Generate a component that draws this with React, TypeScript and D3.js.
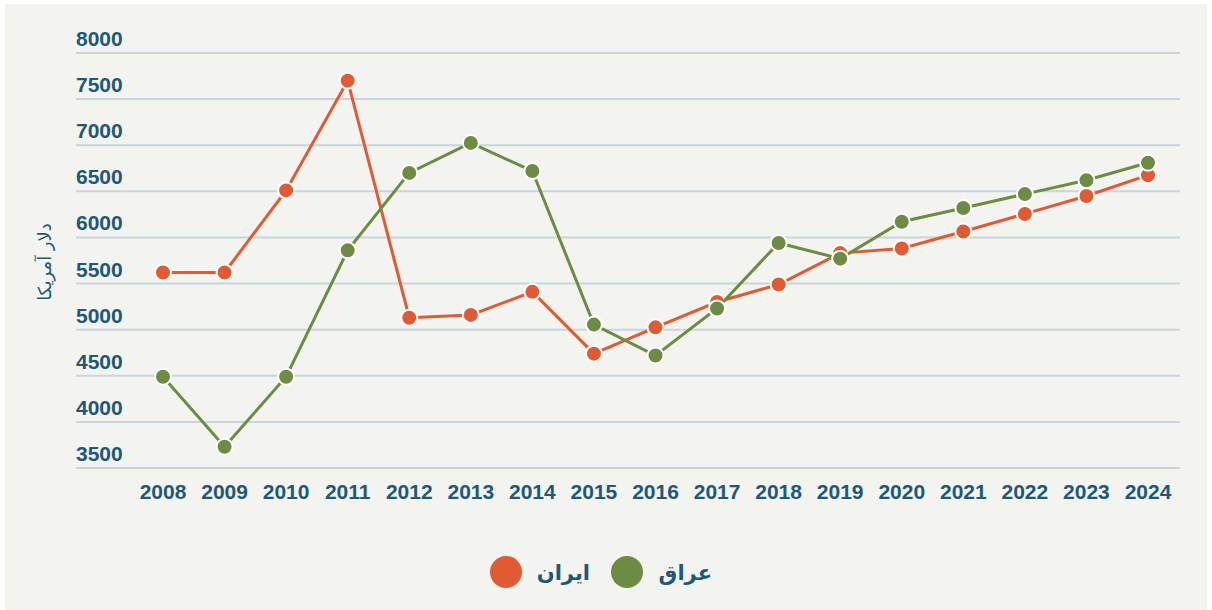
import React from "react";
import * as d3 from "d3";

const years = ["2008","2009","2010","2011","2012","2013","2014","2015","2016","2017","2018","2019","2020","2021","2022","2023","2024"];
const iranValues = [5620,5620,6510,7700,5130,5160,5410,4740,5025,5300,5490,5830,5880,6065,6255,6450,6675];
const iraqValues = [4490,3730,4490,5860,6700,7025,6720,5055,4720,5230,5940,5770,6170,6320,6470,6620,6810];
const yTicks = [3500,4000,4500,5000,5500,6000,6500,7000,7500,8000];
const seriesNames = ["ایران","عراق"];
const yTitle = "دلار آمریکا";

const W = 1212, H = 610;
const BG = "#f3f3ef";
const TEXT = "#1e5879";
const GRID = "#c8d5dc";
const RED = "#e05a33";
const GREEN = "#6b8c42";
const NUM_FONT = "'Liberation Sans Narrow', 'Arial Narrow', 'Liberation Sans', Arial, sans-serif";
const AR_FONT = "'DejaVu Sans', 'Noto Sans', sans-serif";

export default function App() {
  const x = d3.scalePoint<string>().domain(years).range([163, 1148]);
  const y = d3.scaleLinear().domain([3500, 8000]).range([468, 53]);
  const line = d3.line<number>().x((_, i) => x(years[i])!).y(d => y(d));
  const series = [
    { name: seriesNames[0], values: iranValues, color: RED },
    { name: seriesNames[1], values: iraqValues, color: GREEN },
  ];
  return (
    <svg width={W} height={H} style={{ position: "absolute", left: 0, top: 0, display: "block" }}>
      <rect x={0} y={0} width={W} height={H} fill="#ffffff" />
      <rect x={5} y={4} width={1202} height={606} fill={BG} />
      {yTicks.map(t => (
        <g key={t}>
          <line x1={76} x2={1180} y1={y(t)} y2={y(t)} stroke={GRID} strokeWidth={2} />
          <text x={76} y={y(t) - 7} fill={TEXT} fontFamily={NUM_FONT} fontWeight="bold" fontSize={21}>{t}</text>
        </g>
      ))}
      {years.map(yr => (
        <text key={yr} x={x(yr)} y={499} textAnchor="middle" fill={TEXT} fontFamily={NUM_FONT} fontWeight="bold" fontSize={21}>{yr}</text>
      ))}
      <text transform="translate(51,262) rotate(-90)" textAnchor="middle" fill={TEXT} fontFamily={AR_FONT} fontSize={18}>{yTitle}</text>
      {series.map(s => (
        <g key={s.name}>
          <path d={line(s.values)!} fill="none" stroke={s.color} strokeWidth={3} />
          {s.values.map((v, i) => (
            <circle key={i} cx={x(years[i])} cy={y(v)} r={8} fill={s.color} stroke="#ffffff" strokeWidth={2} />
          ))}
        </g>
      ))}
      <g>
        <circle cx={506} cy={572} r={16} fill={RED} />
        <text x={590} y={580} textAnchor="end" fill={TEXT} fontFamily={AR_FONT} fontWeight="bold" fontSize={21}>{seriesNames[0]}</text>
        <circle cx={627} cy={572} r={16} fill={GREEN} />
        <text x={712} y={580} textAnchor="end" fill={TEXT} fontFamily={AR_FONT} fontWeight="bold" fontSize={21}>{seriesNames[1]}</text>
      </g>
    </svg>
  );
}
